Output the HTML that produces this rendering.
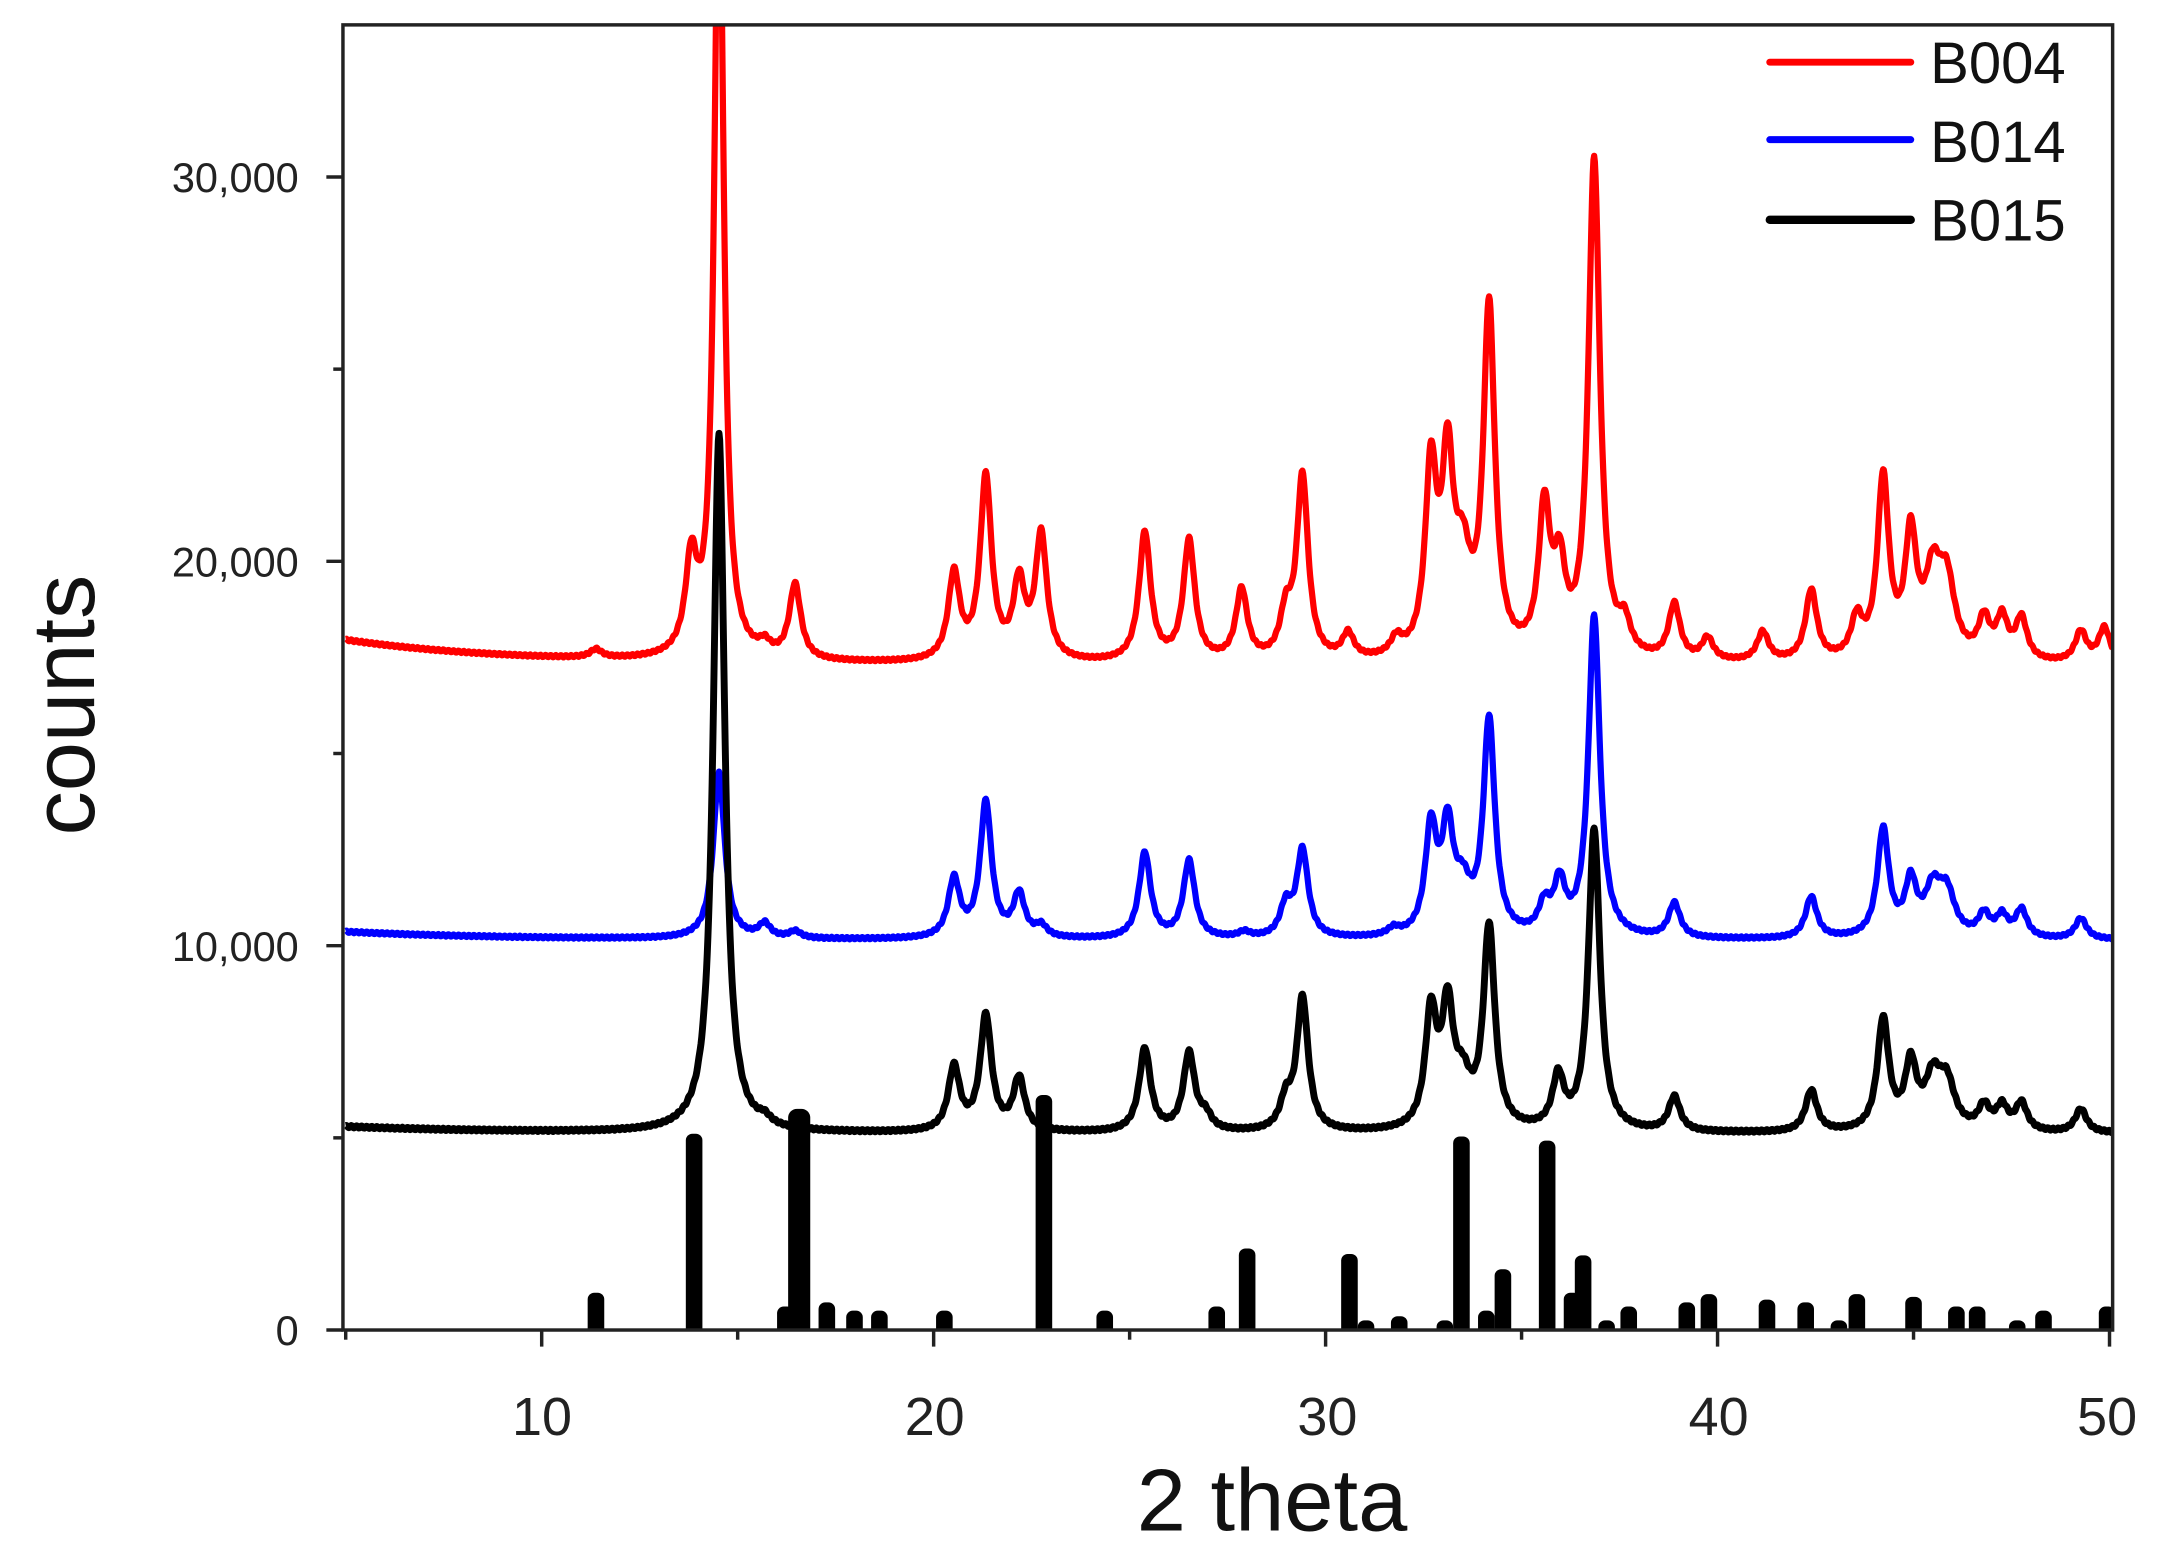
<!DOCTYPE html>
<html><head><meta charset="utf-8">
<style>html,body{margin:0;padding:0;background:#fff;}svg{display:block;}</style>
</head><body>
<svg id="s" width="2168" height="1554" viewBox="0 0 1568 1124" xmlns="http://www.w3.org/2000/svg" font-family="Liberation Sans, Arial, sans-serif">
<defs><clipPath id="c"><rect x="248" y="18" width="1280" height="944"/></clipPath></defs>
<rect width="1568" height="1124" fill="#fff"/>
<g id="data" clip-path="url(#c)"></g>
<rect x="248" y="18" width="1280" height="944" fill="none" stroke="#222" stroke-width="2.5"/>
<g id="ticks" stroke="#222" stroke-width="2.5"></g>
<g font-size="30" fill="#222" text-anchor="end">
<text x="216" y="139">30,000</text>
<text x="216" y="417">20,000</text>
<text x="216" y="695">10,000</text>
<text x="216" y="973">0</text>
</g>
<g font-size="39" fill="#222" text-anchor="middle">
<text x="392" y="1038">10</text>
<text x="676" y="1038">20</text>
<text x="960" y="1038">30</text>
<text x="1243" y="1038">40</text>
<text x="1524" y="1038">50</text>
</g>
<text x="920" y="1107" font-size="64" text-anchor="middle" fill="#111">2 theta</text>
<text transform="translate(68,510) rotate(-90)" font-size="64" text-anchor="middle" fill="#111">counts</text>
<g stroke-width="5" stroke-linecap="round">
<line x1="1280" y1="45" x2="1382" y2="45" stroke="#f00"/>
<line x1="1280" y1="101" x2="1382" y2="101" stroke="#00f"/>
<line x1="1280" y1="159" x2="1382" y2="159" stroke="#000" stroke-width="6"/>
</g>
<g font-size="42" fill="#111">
<text x="1396" y="60">B004</text>
<text x="1396" y="117">B014</text>
<text x="1396" y="174">B015</text>
</g>
</svg>
<script>
var NS="http://www.w3.org/2000/svg";
function el(t,a,p){var e=document.createElementNS(NS,t);for(var k in a)e.setAttribute(k,a[k]);p.appendChild(e);return e;}
var tk=document.getElementById('ticks');
for(var v=5;v<=50;v+=5){var x=250+(v-5)*28.35;var L=(v%10==0)?12:7;el('line',{x1:x,y1:962,x2:x,y2:962+L},tk);}
for(var v=0;v<=30000;v+=5000){var y=962-v*0.0278;var L=(v%10000==0)?12:7;el('line',{x1:248-L,y1:y,x2:248,y2:y},tk);}
var g=document.getElementById('data');
function curve(base,b0,peaks,color,w){
 var d="";
 for(var x=250;x<=1528;x+=0.5){
  var y=base+(b0-base)*Math.exp(-(x-250)/120);
  for(var i=0;i<peaks.length;i++){var p=peaks[i];var ww=p[2]||5;var u=(x-p[0])/ww;y-=p[1]/(1+u*u);}
  y+=Math.sin(x*1.7)*0.8;
  d+=(d?"L":"M")+x.toFixed(1)+" "+y.toFixed(1);
 }
 el('path',{d:d,fill:'none',stroke:color,'stroke-width':w,'stroke-linejoin':'round'},g);
}
var red=[[431,6],[500,66],[520,600,4],[553,8],[575,54],[690,62],[713,132],[737,54],[753,90],[828,93],[860,87],[898,51],[930,30],[942,132],[975,18],[1010,12],[1035,132],[1047,130],[1058,60,7],[1077,250],[1117,104],[1128,58],[1153,360],[1175,21],[1211,40],[1235,16],[1275,21],[1310,51],[1343,28],[1362,130],[1382,86],[1398,56,7],[1408,52,7],[1435,28],[1448,29],[1462,30],[1505,22],[1522,25]];
var blue=[[520,120,5],[553,10],[575,5],[690,42],[713,98],[737,31],[753,8],[828,62],[860,56],[900,4],[930,22],[942,63],[1008,5],[1035,76],[1047,72],[1058,30,7],[1077,155],[1117,20],[1128,36],[1153,232],[1211,25],[1310,30],[1362,78],[1382,38],[1398,32,7],[1408,30,7],[1435,16],[1448,15],[1462,20],[1505,15]];
var black=[[520,505,5],[553,5],[690,46],[713,83],[737,38],[828,60],[860,56],[872,10],[930,20],[942,96],[1035,82],[1047,82],[1058,30,7],[1077,145],[1127,37],[1153,218],[1211,25],[1310,30],[1362,80],[1382,46],[1398,35,7],[1408,32,7],[1435,17],[1448,17],[1462,20],[1505,17]];
curve(481,463,red,'#f00',4.5);
curve(680,674,blue,'#00f',4.5);
curve(820,815,black,'#000',5);
var bars=[[431,935],[502,820],[568,945],[578,802,16],[598,942],[618,948],[636,948],[683,948],[755,792],[799,948],[880,945],[902,903],[976,907],[988,955],[1012,952],[1045,955],[1057,822],[1075,948],[1087,918],[1119,825],[1137,935],[1145,908],[1162,955],[1178,945],[1220,942],[1236,936],[1278,940],[1306,942],[1330,955],[1343,936],[1384,938],[1415,945],[1430,945],[1459,955],[1478,948],[1524,945]];
bars.forEach(function(b){var w=b[2]||12;el('rect',{x:b[0]-w/2,y:b[1],width:w,height:970-b[1],rx:w/2.5,fill:'#000'},g);});
</script>
</body></html>
